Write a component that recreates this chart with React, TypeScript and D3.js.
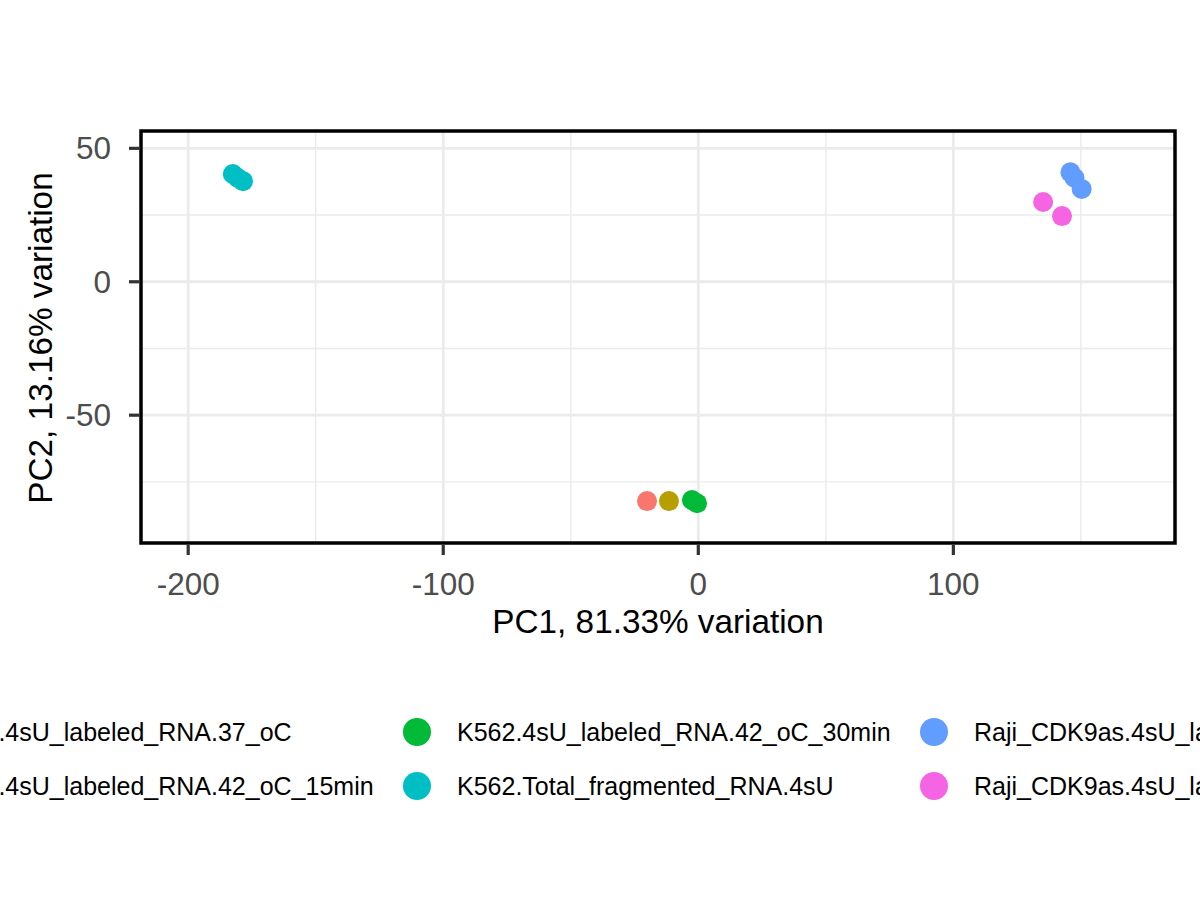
import { useEffect, useRef } from "react";
import * as d3 from "d3";

// sample groups (legend order, ggplot default hue palette)
const GROUPS = [
  "K562.4sU_labeled_RNA.37_oC",
  "K562.4sU_labeled_RNA.42_oC_15min",
  "K562.4sU_labeled_RNA.42_oC_30min",
  "K562.Total_fragmented_RNA.4sU",
  "Raji_CDK9as.4sU_labeled_RNA.DMSO",
  "Raji_CDK9as.4sU_labeled_RNA.inhibitor",
];
const COLORS = ["#F8766D", "#B79F00", "#00BA38", "#00BFC4", "#619CFF", "#F564E3"];

// PCA scores
const PC1 = [-20.1, -11.5, -2.5, -0.5, -182.5, -180.5, -178.5, 145.9, 147.5, 150.3, 135.2, 142.6];
const PC2 = [-82.2, -82.2, -81.8, -83.0, 40.4, 38.9, 37.7, 41.0, 39.0, 34.8, 29.9, 24.6];
const SAMPLE_GROUP = [0, 1, 2, 2, 3, 3, 3, 4, 4, 4, 5, 5];

const X_TICKS = [-200, -100, 0, 100];
const X_MINOR = [-150, -50, 50, 150];
const Y_TICKS = [-50, 0, 50];
const Y_MINOR = [-75, -25, 25];

const X_TITLE = "PC1, 81.33% variation";
const Y_TITLE = "PC2, 13.16% variation";

const FONT = "'Liberation Sans', Arial, sans-serif";

export default function App() {
  const ref = useRef<SVGSVGElement>(null);

  useEffect(() => {
    if (!ref.current) return;
    const width = 1200;
    const height = 900;
    const panel = { left: 141, right: 1175, top: 131, bottom: 543 };

    const svg = d3.select(ref.current);
    svg.selectAll("*").remove();

    const x = d3.scaleLinear().domain([-218.5, 186.9]).range([panel.left, panel.right]);
    const y = d3.scaleLinear().domain([-97.9, 56.5]).range([panel.bottom, panel.top]);

    svg.append("rect").attr("width", width).attr("height", height).attr("fill", "#fff");

    const grid = svg.append("g");
    // minor grid
    grid.selectAll(".xm").data(X_MINOR).enter().append("line")
      .attr("x1", (d) => x(d)).attr("x2", (d) => x(d))
      .attr("y1", panel.top).attr("y2", panel.bottom)
      .attr("stroke", "#EBEBEB").attr("stroke-width", 1.4);
    grid.selectAll(".ym").data(Y_MINOR).enter().append("line")
      .attr("y1", (d) => y(d)).attr("y2", (d) => y(d))
      .attr("x1", panel.left).attr("x2", panel.right)
      .attr("stroke", "#EBEBEB").attr("stroke-width", 1.4);
    // major grid
    grid.selectAll(".xM").data(X_TICKS).enter().append("line")
      .attr("x1", (d) => x(d)).attr("x2", (d) => x(d))
      .attr("y1", panel.top).attr("y2", panel.bottom)
      .attr("stroke", "#EBEBEB").attr("stroke-width", 2.8);
    grid.selectAll(".yM").data(Y_TICKS).enter().append("line")
      .attr("y1", (d) => y(d)).attr("y2", (d) => y(d))
      .attr("x1", panel.left).attr("x2", panel.right)
      .attr("stroke", "#EBEBEB").attr("stroke-width", 2.8);

    // points
    const idx = d3.range(PC1.length);
    svg.append("g").selectAll("circle").data(idx).enter().append("circle")
      .attr("cx", (i) => x(PC1[i]))
      .attr("cy", (i) => y(PC2[i]))
      .attr("r", 10)
      .attr("fill", (i) => COLORS[SAMPLE_GROUP[i]]);

    // panel border
    svg.append("rect")
      .attr("x", panel.left).attr("y", panel.top)
      .attr("width", panel.right - panel.left).attr("height", panel.bottom - panel.top)
      .attr("fill", "none").attr("stroke", "#000").attr("stroke-width", 3.5);

    // x axis ticks + labels (plain hyphen minus like R)
    const xa = svg.append("g");
    xa.selectAll("line").data(X_TICKS).enter().append("line")
      .attr("x1", (d) => x(d)).attr("x2", (d) => x(d))
      .attr("y1", panel.bottom + 1.5).attr("y2", panel.bottom + 12)
      .attr("stroke", "#333").attr("stroke-width", 3.2);
    xa.selectAll("text").data(X_TICKS).enter().append("text")
      .attr("x", (d) => x(d)).attr("y", 595)
      .attr("text-anchor", "middle")
      .style("font-family", FONT).style("font-size", "31.5px").attr("fill", "#4D4D4D")
      .text((d) => String(d));

    // y axis ticks + labels
    const ya = svg.append("g");
    ya.selectAll("line").data(Y_TICKS).enter().append("line")
      .attr("y1", (d) => y(d)).attr("y2", (d) => y(d))
      .attr("x1", panel.left - 1.5).attr("x2", panel.left - 12)
      .attr("stroke", "#333").attr("stroke-width", 3.2);
    ya.selectAll("text").data(Y_TICKS).enter().append("text")
      .attr("x", 111).attr("y", (d) => y(d) + 11)
      .attr("text-anchor", "end")
      .style("font-family", FONT).style("font-size", "31.5px").attr("fill", "#4D4D4D")
      .text((d) => String(d));

    // axis titles
    svg.append("text")
      .attr("x", (panel.left + panel.right) / 2).attr("y", 633)
      .attr("text-anchor", "middle")
      .style("font-family", FONT).style("font-size", "33.3px").attr("fill", "#000")
      .text(X_TITLE);
    svg.append("text")
      .attr("transform", `translate(52,${(panel.top + panel.bottom) / 2 + 1}) rotate(-90)`)
      .attr("text-anchor", "middle")
      .style("font-family", FONT).style("font-size", "33.3px").attr("fill", "#000")
      .text(Y_TITLE);

    // legend: 2 rows, filled by column (wider than the device, clipped at both sides)
    const colX = [-100, 417, 934];
    const rowY = [732, 786];
    const leg = svg.append("g").selectAll("g").data(GROUPS).enter().append("g")
      .attr("transform", (_, i) => `translate(${colX[Math.floor(i / 2)]},${rowY[i % 2]})`);
    leg.append("circle").attr("r", 14).attr("fill", (_, i) => COLORS[i]);
    leg.append("text")
      .attr("x", 40).attr("y", 9)
      .style("font-family", FONT).style("font-size", "25px").attr("fill", "#000")
      .text((d) => d);
  }, []);

  return (
    <svg
      ref={ref}
      width={1200}
      height={900}
      style={{ position: "absolute", left: 0, top: 0 }}
    />
  );
}
